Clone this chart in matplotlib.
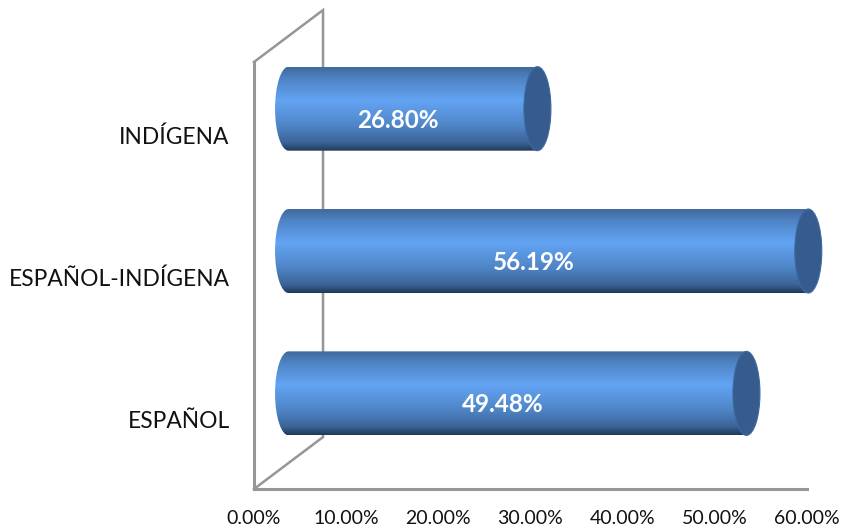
import numpy as np
import matplotlib
matplotlib.use("Agg")
import matplotlib.pyplot as plt
from matplotlib.colors import LinearSegmentedColormap
from matplotlib.patches import Ellipse, PathPatch
from matplotlib.path import Path
from matplotlib.transforms import ScaledTranslation

categories = ["ESPAÑOL", "ESPAÑOL-INDÍGENA", "INDÍGENA"]
values = [49.48, 56.19, 26.80]
xticks = [0, 10, 20, 30, 40, 50, 60]

plt.rcParams["font.family"] = ["Lato", "DejaVu Sans"]

W, H = 841, 527
fig = plt.figure(figsize=(W / 100, H / 100), dpi=100)
ax = fig.add_axes([254 / W, (H - 489) / H, (807 - 254) / W, (489 - 62) / H])
ax.set_xlim(0, 60)
ax.set_ylim(-0.5, 2.5)

wall = "#969696"
for s in ["top", "right"]:
    ax.spines[s].set_visible(False)
for s in ["left", "bottom"]:
    ax.spines[s].set_color(wall)
    ax.spines[s].set_linewidth(2.2)

# back wall of the fake 3d box
depth_x, depth_y = 7.49, 0.365
ax.plot([0, depth_x, depth_x, 0], [2.5, 2.5 + depth_y, -0.5 + depth_y, -0.5],
        color=wall, lw=1.8, clip_on=False, zorder=1, solid_joinstyle="miter")

ax.set_xticks(xticks)
ax.set_xticklabels(["%.2f%%" % t for t in xticks], fontsize=14, color="#111111")
ax.set_yticks(range(len(categories)))
ax.set_yticklabels(categories, fontsize=16.4, color="#111111")
ax.tick_params(axis="both", length=0)
ax.tick_params(axis="x", pad=15)
ax.tick_params(axis="y", pad=17.5)
for lab in ax.get_yticklabels():
    lab.set_transform(lab.get_transform() + ScaledTranslation(0, -2 / 100, fig.dpi_scale_trans))

shade = LinearSegmentedColormap.from_list("cyl", [
    (0.0, "#41699c"), (0.14, "#4f84c5"), (0.40, "#63a4f4"),
    (0.70, "#4f85c6"), (0.90, "#3c6497"), (1.0, "#213859")])
grad = np.linspace(0, 1, 256).reshape(-1, 1)

start_dx, end_dx = 3.75, 3.95
bar_dy, bar_h = 0.172, 0.59
cap_w = 2.93

for i, v in enumerate(values):
    y0 = i + bar_dy
    x0, x1 = start_dx, v + end_dx
    top, bot = y0 + bar_h / 2, y0 - bar_h / 2
    im = ax.imshow(grad, cmap=shade, aspect="auto", zorder=3,
                   extent=[x0 - cap_w / 2, x1, bot, top], origin="upper")
    # rounded left end, square right end (cap goes on top)
    k = 0.5523
    verts = [(x1, bot), (x1, top), (x0, top),
             (x0 - k * cap_w / 2, top), (x0 - cap_w / 2, y0 + k * bar_h / 2), (x0 - cap_w / 2, y0),
             (x0 - cap_w / 2, y0 - k * bar_h / 2), (x0 - k * cap_w / 2, bot), (x0, bot),
             (x1, bot)]
    codes = [Path.MOVETO, Path.LINETO, Path.LINETO,
             Path.CURVE4, Path.CURVE4, Path.CURVE4,
             Path.CURVE4, Path.CURVE4, Path.CURVE4,
             Path.CLOSEPOLY]
    outline = PathPatch(Path(verts, codes), transform=ax.transData, fc="none", ec="none")
    ax.add_patch(outline)
    im.set_clip_on(True)
    im.set_clip_path(outline)
    ax.add_patch(Ellipse((x1, y0), cap_w, bar_h, fc="#355c8c", ec="#3d6aa3", lw=0.8,
                         zorder=4, clip_on=False))
    ax.text(v / 2 + 2.25, i + 0.092, "%.2f%%" % v, color="white", fontsize=17.5,
            fontweight="bold", ha="center", va="center", zorder=5)

ax.set_xlim(0, 60)
ax.set_ylim(-0.5, 2.5)
fig.savefig("out.png", dpi=100)
